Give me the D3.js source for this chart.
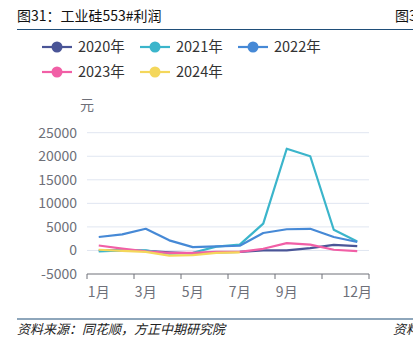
<!DOCTYPE html>
<html>
<head>
<meta charset="utf-8">
<script src="https://d3js.org/d3.v7.min.js"></script>
<style>
  body { margin: 0; background: #fff; }
  svg { display: block; font-family: "Noto Sans CJK SC", "Noto Sans", sans-serif; }
</style>
</head>
<body>
<div id="chart"></div>
<script>
const months = ["1月", "2月", "3月", "4月", "5月", "6月", "7月", "8月", "9月", "10月", "11月", "12月"];
const shownLabels = ["1月", "3月", "5月", "7月", "9月", "12月"];
const years = ["2020年", "2021年", "2022年", "2023年", "2024年"];
const colors = ["#4a5597", "#3bb5cb", "#4689d6", "#f15fa6", "#f4d75b"];

const v2020 = [0, 0, -100, -400, -600, -400, -300, 0, 0, 500, 1200, 900];
const v2021 = [-200, 0, 0, -700, -500, 800, 1250, 5700, 21600, 20000, 4400, 1900];
const v2022 = [2850, 3400, 4600, 2150, 700, 850, 1000, 3700, 4500, 4600, 2850, 1800];
const v2023 = [1050, 400, -200, -500, -500, -300, -300, 350, 1550, 1250, 150, -150];
const v2024 = [150, -100, -300, -1100, -1000, -500, -400];
const series = [v2020, v2021, v2022, v2023, v2024];
const yTicks = [-5000, 0, 5000, 10000, 15000, 20000, 25000];

const width = 413, height = 352;
const svg = d3.select("#chart").append("svg")
  .attr("width", width)
  .attr("height", height);

// header / footer
svg.append("text")
  .attr("x", 17).attr("y", 21)
  .attr("font-size", "14px").attr("fill", "#111")
  .text("图31：工业硅553#利润");
svg.append("text")
  .attr("x", 395).attr("y", 21)
  .attr("font-size", "14px").attr("fill", "#111")
  .text("图3");
svg.append("line")
  .attr("x1", 17).attr("x2", width).attr("y1", 29.5).attr("y2", 29.5)
  .attr("stroke", "#1f4e79").attr("stroke-width", 1.2);
svg.append("line")
  .attr("x1", 17).attr("x2", width).attr("y1", 319).attr("y2", 319)
  .attr("stroke", "#1f4e79").attr("stroke-width", 1.2);
svg.append("text")
  .attr("x", 17).attr("y", 334)
  .attr("font-size", "13px").attr("fill", "#222").attr("font-style", "italic")
  .text("资料来源：同花顺，方正中期研究院");
svg.append("text")
  .attr("x", 393).attr("y", 334)
  .attr("font-size", "13px").attr("fill", "#222").attr("font-style", "italic")
  .text("资料");

// scales
const x = d3.scaleBand().domain(months).range([87, 369]);
const y = d3.scaleLinear().domain([-5000, 25000]).range([274, 132.7]);
const cx = m => x(m) + x.bandwidth() / 2;

// grid
svg.append("g").selectAll("line")
  .data(yTicks.filter(d => d > -5000))
  .join("line")
  .attr("x1", 87).attr("x2", 369)
  .attr("y1", d => y(d)).attr("y2", d => y(d))
  .attr("stroke", "#e0e6f1").attr("stroke-width", 1);

// y labels
svg.append("g").selectAll("text")
  .data(yTicks)
  .join("text")
  .attr("x", 77)
  .attr("y", d => y(d))
  .attr("dy", "0.35em")
  .attr("text-anchor", "end")
  .attr("font-size", "14px")
  .attr("fill", "#6e7079")
  .text(d => d);

svg.append("text")
  .attr("x", 80).attr("y", 110)
  .attr("font-size", "14px").attr("fill", "#6e7079")
  .text("元");

// x axis
svg.append("line")
  .attr("x1", 87).attr("x2", 369).attr("y1", 274).attr("y2", 274)
  .attr("stroke", "#6e7079").attr("stroke-width", 1);
const tickPos = ["1月", "3月", "5月", "7月", "9月", "11月"].map(m => x(m)).concat([x.range()[1]]);
svg.append("g").selectAll("line")
  .data(tickPos)
  .join("line")
  .attr("x1", d => d).attr("x2", d => d)
  .attr("y1", 274).attr("y2", 279)
  .attr("stroke", "#6e7079");
svg.append("g").selectAll("text")
  .data(shownLabels)
  .join("text")
  .attr("x", d => cx(d))
  .attr("y", 292)
  .attr("dy", "0.35em")
  .attr("text-anchor", "middle")
  .attr("font-size", "14px")
  .attr("fill", "#6e7079")
  .text(d => d);

// lines
const line = d3.line()
  .x((d, i) => cx(months[i]))
  .y(d => y(d));
svg.append("g").selectAll("path")
  .data(series)
  .join("path")
  .attr("d", d => line(d))
  .attr("fill", "none")
  .attr("stroke", (d, i) => colors[i])
  .attr("stroke-width", 2.2)
  .attr("stroke-linejoin", "round");

// legend
const legendPos = [[42, 47], [140, 47], [238, 47], [42, 72], [140, 72]];
const legend = svg.append("g").selectAll("g")
  .data(years)
  .join("g")
  .attr("transform", (d, i) => `translate(${legendPos[i][0]},${legendPos[i][1]})`);
legend.append("line")
  .attr("x1", 0).attr("x2", 30)
  .attr("stroke", (d, i) => colors[i]).attr("stroke-width", 2.2);
legend.append("circle")
  .attr("cx", 15).attr("r", 5.5)
  .attr("fill", (d, i) => colors[i]);
legend.append("text")
  .attr("x", 36).attr("dy", "0.35em")
  .attr("font-size", "14.5px").attr("fill", "#333")
  .text(d => d);
</script>
</body>
</html>
